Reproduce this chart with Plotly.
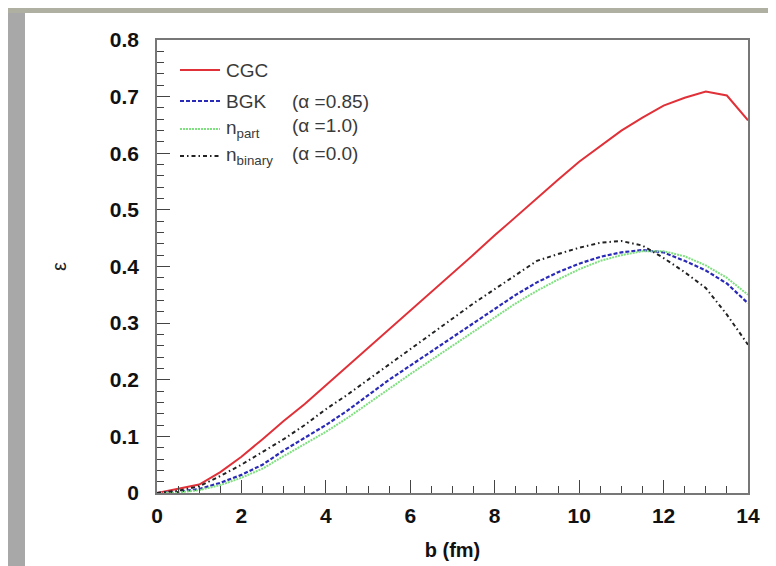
import plotly.graph_objects as go

# impact parameter grid (fm)
b = [0, 0.5, 1, 1.5, 2, 2.5, 3, 3.5, 4, 4.5, 5, 5.5, 6, 6.5, 7, 7.5, 8, 8.5, 9, 9.5,
     10, 10.5, 11, 11.5, 12, 12.5, 13, 13.5, 14]

eps_cgc = [0, 0.007, 0.015, 0.037, 0.064, 0.095, 0.127, 0.157, 0.19, 0.222, 0.255, 0.289,
           0.322, 0.355, 0.388, 0.421, 0.455, 0.488, 0.52, 0.553, 0.585, 0.613, 0.64, 0.663,
           0.684, 0.698, 0.709, 0.702, 0.658]
eps_bgk = [0, 0.002, 0.007, 0.018, 0.032, 0.05, 0.075, 0.098, 0.12, 0.145, 0.172, 0.2,
           0.225, 0.25, 0.275, 0.3, 0.325, 0.35, 0.372, 0.39, 0.405, 0.417, 0.425, 0.429,
           0.425, 0.41, 0.393, 0.37, 0.335]
eps_npart = [0, 0.001, 0.005, 0.014, 0.027, 0.043, 0.065, 0.087, 0.108, 0.132, 0.158, 0.185,
             0.21, 0.235, 0.26, 0.285, 0.31, 0.335, 0.357, 0.377, 0.395, 0.41, 0.42, 0.427,
             0.427, 0.418, 0.402, 0.38, 0.35]
eps_nbin = [0, 0.004, 0.012, 0.03, 0.05, 0.072, 0.095, 0.12, 0.148, 0.173, 0.2, 0.228,
            0.255, 0.282, 0.308, 0.335, 0.36, 0.385, 0.41, 0.422, 0.433, 0.442, 0.445, 0.437,
            0.415, 0.39, 0.362, 0.315, 0.262]

series_names = ["CGC", "BGK", "n<sub>part</sub>", "n<sub>binary</sub>"]
alpha_labels = ["", "(α =0.85)", "(α =1.0)", "(α =0.0)"]

styles = [
    dict(color="#e03038", width=2),
    dict(color="#2a2ab8", width=2.2, dash="4px,2px"),
    dict(color="#7ee07e", width=2, dash="2px,1px"),
    dict(color="#222222", width=2, dash="4px,3px,1.5px,3px"),
]
series_values = [eps_cgc, eps_bgk, eps_npart, eps_nbin]

fig = go.Figure()
for name, vals, st in zip(series_names, series_values, styles):
    fig.add_trace(go.Scatter(x=b, y=vals, mode="lines", name=name, line=st, showlegend=False))

L, R, T, B = 149, 36, 32, 81
W, H = 776, 566
pw, ph = W - L - R, H - T - B

def px2paper_x(px):
    return (px - L) / pw

def px2paper_y(py):
    return (H - B - py) / ph

# hand-placed legend (ROOT style, no box)
legend_font = dict(family="Liberation Sans", size=19, color="#3a3a3a")
row_py = [62, 93, 121, 148]
alpha_py = [None, 93, 118, 146]
for name, lab, st, py, apy in zip(series_names, alpha_labels, styles, row_py, alpha_py):
    fig.add_shape(type="line", xref="paper", yref="paper",
                  x0=px2paper_x(172), x1=px2paper_x(212), y0=px2paper_y(py), y1=px2paper_y(py),
                  line=st)
    has_sub = "<sub>" in name
    fig.add_annotation(text=name, xref="paper", yref="paper",
                       x=px2paper_x(216), y=px2paper_y(py - 14 if has_sub else py),
                       xanchor="left", yanchor="top" if has_sub else "middle",
                       showarrow=False, font=legend_font)
    if lab:
        fig.add_annotation(text=lab, xref="paper", yref="paper",
                           x=px2paper_x(282), y=px2paper_y(apy), xanchor="left", yanchor="middle",
                           showarrow=False, font=legend_font)

# slide background: white panel on gray, with a slightly olive top strip
fig.add_shape(type="rect", xref="paper", yref="paper", layer="below",
              x0=px2paper_x(-5), x1=px2paper_x(W + 5), y0=px2paper_y(-5), y1=px2paper_y(5),
              fillcolor="#b0b0a2", line=dict(width=0))
fig.add_shape(type="rect", xref="paper", yref="paper", layer="below",
              x0=px2paper_x(17), x1=px2paper_x(W + 5), y0=px2paper_y(5), y1=px2paper_y(H + 5),
              fillcolor="white", line=dict(width=0))

tickfont = dict(family="Liberation Sans", size=21, color="#111111", weight="bold")
axcommon = dict(showgrid=False, zeroline=False, showline=True, linecolor="#777777", linewidth=1.5,
                mirror=True, ticks="inside", tickcolor="#444444", tickwidth=1.2, tickfont=tickfont,
                automargin=False)

fig.update_xaxes(range=[0, 14], tickvals=[0, 2, 4, 6, 8, 10, 12, 14], ticklen=13,
                 minor=dict(dtick=0.5, ticks="inside", ticklen=7, tickcolor="#444444", tickwidth=1.2),
                 ticklabelstandoff=3,
                 title=dict(text="b (fm)", standoff=17,
                            font=dict(family="Liberation Sans", size=20, color="#111111", weight="bold")),
                 **axcommon)
fig.update_yaxes(range=[0, 0.8], dtick=0.1, ticklen=13,
                 minor=dict(dtick=0.02, ticks="inside", ticklen=7, tickcolor="#444444", tickwidth=1.2),
                 ticklabelstandoff=12,
                 title=dict(text="ε", standoff=38,
                            font=dict(family="Liberation Sans", size=20, color="#222222")),
                 **axcommon)

fig.update_layout(
    width=W, height=H,
    margin=dict(l=L, r=R, t=T, b=B, pad=0),
    paper_bgcolor="#a8a8a8", plot_bgcolor="white",
    showlegend=False,
)

fig.write_html("out.html")
